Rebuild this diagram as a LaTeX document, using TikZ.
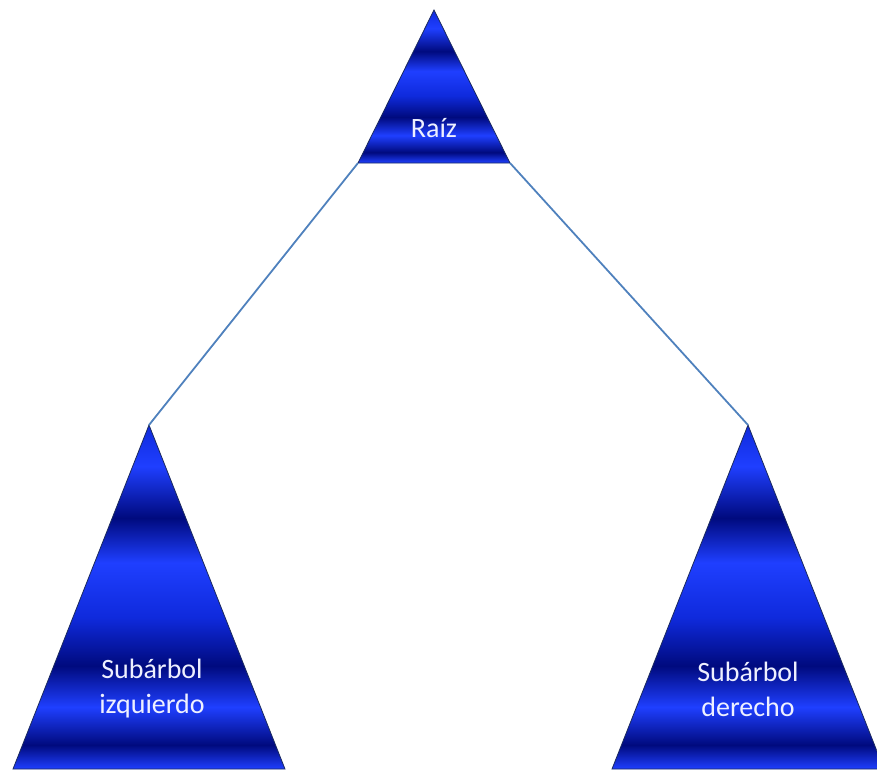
\documentclass[tikz,border=0pt]{standalone}
\usepackage{fontspec}
\setmainfont{Carlito}
\usetikzlibrary{shapes.geometric}
\definecolor{stink}{HTML}{1B2A5E}
\definecolor{stbright}{HTML}{1F3FFF}
\definecolor{stmid}{HTML}{0F2ADC}
\definecolor{stdark}{HTML}{000A7E}
\definecolor{stlink}{HTML}{4F81BD}
\definecolor{sttext}{HTML}{EEF0FF}
% bands from bottom (25bp) to top (75bp)
\pgfdeclareverticalshading{ststripes}{100bp}{color(0bp)=(stbright); color(25bp)=(stbright);
  color(28.5bp)=(stdark); color(34bp)=(stbright); color(40bp)=(stdark); color(47bp)=(stmid);
  color(55bp)=(stbright); color(61.5bp)=(stdark); color(69bp)=(stbright); color(75bp)=(stmid);
  color(100bp)=(stmid)}
\tikzset{
  st tree/.style={isosceles triangle, isosceles triangle stretches, shape border rotate=90,
    inner sep=0pt, outer sep=0pt, draw=stink, line width=0.8pt, shading=ststripes},
  st link/.style={draw=stlink, line width=1.8pt},
  st label/.style={text=sttext, align=center, font=\fontsize{28}{35}\selectfont}
}

\begin{document}
\begin{tikzpicture}[x=1pt, y=-1pt]
  \useasboundingbox (0,0) rectangle (877,769);
  \node[st tree, minimum width=152pt, minimum height=153pt, anchor=apex] (root) at (434,10) {};
  \node[st tree, minimum width=272pt, minimum height=344pt, anchor=apex] (left) at (149,425) {};
  \node[st tree, minimum width=272pt, minimum height=344pt, anchor=apex] (right) at (748,425) {};
  \draw[st link] (root.left corner) -- (left.apex);
  \draw[st link] (root.right corner) -- (right.apex);
  \node[st label, anchor=base] (rootlabel) at (434,137) {Raíz};
  \node[st label] (leftlabel) at (152,689) {Subárbol\\izquierdo};
  \node[st label] (rightlabel) at (748,689) {Subárbol\\derecho};
\end{tikzpicture}
\end{document}
